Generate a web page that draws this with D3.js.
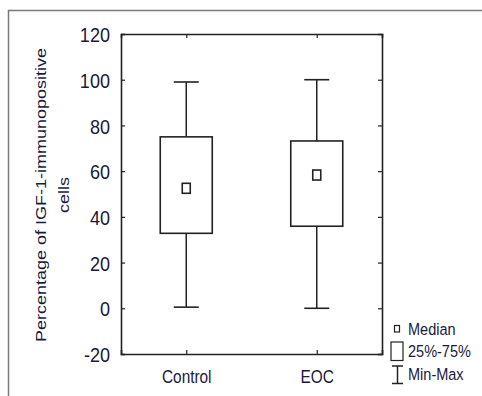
<!DOCTYPE html>
<html>
<head>
<meta charset="utf-8">
<script src="https://cdn.jsdelivr.net/npm/d3@7"></script>
<style>
  body { margin: 0; background: #fff; }
  svg text { font-family: "Liberation Sans", Arial, sans-serif; fill: #1a1a3c; }
</style>
</head>
<body>
<div id="chart"></div>
<script>
const groups = ["Control", "EOC"];
const minVals = [0.5, 0];
const q1Vals = [32.8, 35.9];
const medianVals = [52.5, 58.3];
const q3Vals = [75, 73.2];
const maxVals = [99, 100];
const yTicks = [-20, 0, 20, 40, 60, 80, 100, 120];
const legendLabels = ["Median", "25%-75%", "Min-Max"];

const svgWidth = 482, svgHeight = 396;
const margin = {top: 34, right: 100, bottom: 42, left: 121};
const width = svgWidth - margin.left - margin.right,
      height = svgHeight - margin.top - margin.bottom;

const svg = d3.select("#chart").append("svg")
  .attr("width", svgWidth)
  .attr("height", svgHeight);

// outer frame
svg.append("path")
  .attr("d", "M8.5,396 V10.5 H482")
  .attr("fill", "none")
  .attr("stroke", "#7a7a7a")
  .attr("stroke-width", 1.5);

const g = svg.append("g").attr("transform", `translate(${margin.left},${margin.top})`);

const y = d3.scaleLinear().domain([-20, 120]).range([height, 0]);
const x = d3.scalePoint().domain(groups).range([0, width]).padding(0.5);

// axes, ticks pointing inward
const yAxis = g.append("g").call(d3.axisLeft(y).tickValues(yTicks).tickSize(-4).tickFormat(d => String(d)));
const yAxisR = g.append("g").attr("transform", `translate(${width},0)`)
  .call(d3.axisRight(y).tickValues(yTicks).tickSize(-4).tickFormat(""));
const xAxis = g.append("g").attr("transform", `translate(0,${height})`)
  .call(d3.axisBottom(x).tickSize(-4));
const xAxisT = g.append("g")
  .call(d3.axisTop(x).tickSize(-4).tickFormat(""));

[yAxis, yAxisR, xAxis, xAxisT].forEach(a => {
  a.select(".domain").attr("stroke", "#222").attr("stroke-width", 1.6);
  a.selectAll(".tick line").attr("stroke", "#222").attr("stroke-width", 1.2);
});
yAxisR.select(".tick:last-of-type").remove();

// narrow looking tick labels
yAxis.selectAll("text")
  .attr("x", 0).attr("dy", "0.36em")
  .attr("transform", "translate(-11,0) scale(0.86,1)")
  .style("font-size", "21px");
xAxis.selectAll("text")
  .attr("y", 0).attr("dy", 0)
  .attr("transform", "translate(0,29) scale(0.81,1)")
  .style("font-size", "19px");

// y label (stretched along its length)
const label = svg.append("g").attr("transform", "translate(46,195) rotate(-90)");
label.append("text")
  .attr("text-anchor", "middle")
  .attr("textLength", 294).attr("lengthAdjust", "spacingAndGlyphs")
  .style("font-size", "15px")
  .text("Percentage of IGF-1-immunopositive");
label.append("text")
  .attr("y", 22.5)
  .attr("text-anchor", "middle")
  .attr("textLength", 36).attr("lengthAdjust", "spacingAndGlyphs")
  .style("font-size", "15px")
  .text("cells");

const boxW = 52, capW = 25, medW = 8, medH = 10;
const data = groups.map((name, i) => ({name, min: minVals[i], q1: q1Vals[i], med: medianVals[i], q3: q3Vals[i], max: maxVals[i]}));

const box = g.selectAll(".box").data(data).enter().append("g")
  .attr("class", "box")
  .attr("transform", d => `translate(${x(d.name)},0)`);

box.append("line").attr("y1", d => y(d.max)).attr("y2", d => y(d.q3))
  .attr("stroke", "#222").attr("stroke-width", 1.5);
box.append("line").attr("y1", d => y(d.q1)).attr("y2", d => y(d.min))
  .attr("stroke", "#222").attr("stroke-width", 1.5);
box.append("line").attr("x1", -capW / 2).attr("x2", capW / 2)
  .attr("y1", d => y(d.max)).attr("y2", d => y(d.max))
  .attr("stroke", "#222").attr("stroke-width", 1.6);
box.append("line").attr("x1", -capW / 2).attr("x2", capW / 2)
  .attr("y1", d => y(d.min)).attr("y2", d => y(d.min))
  .attr("stroke", "#222").attr("stroke-width", 1.6);
box.append("rect")
  .attr("x", -boxW / 2).attr("width", boxW)
  .attr("y", d => y(d.q3)).attr("height", d => y(d.q1) - y(d.q3))
  .attr("fill", "#fff").attr("stroke", "#222").attr("stroke-width", 1.6);
box.append("rect")
  .attr("x", -medW / 2).attr("width", medW)
  .attr("y", d => y(d.med) - medH / 2).attr("height", medH)
  .attr("fill", "#fff").attr("stroke", "#222").attr("stroke-width", 1.6);

// legend
const lg = svg.append("g").attr("transform", "translate(397,0)");
lg.append("rect").attr("x", -2.5).attr("y", 325.5).attr("width", 5).attr("height", 6.5)
  .attr("fill", "#fff").attr("stroke", "#222").attr("stroke-width", 1.2);
lg.append("rect").attr("x", -6).attr("y", 342).attr("width", 12).attr("height", 18.5)
  .attr("fill", "#fff").attr("stroke", "#222").attr("stroke-width", 1.2);
lg.append("path").attr("d", "M-5,366 H6 M0.5,366 V383.5 M-5,383.5 H6")
  .attr("fill", "none").attr("stroke", "#222").attr("stroke-width", 1.5);
const legendBase = [335, 357, 380];
lg.selectAll(".lt").data(legendLabels).enter().append("text")
  .attr("class", "lt")
  .attr("transform", (d, i) => `translate(11,${legendBase[i]}) scale(0.88,1)`)
  .style("font-size", "16.5px")
  .text(d => d);
</script>
</body>
</html>
